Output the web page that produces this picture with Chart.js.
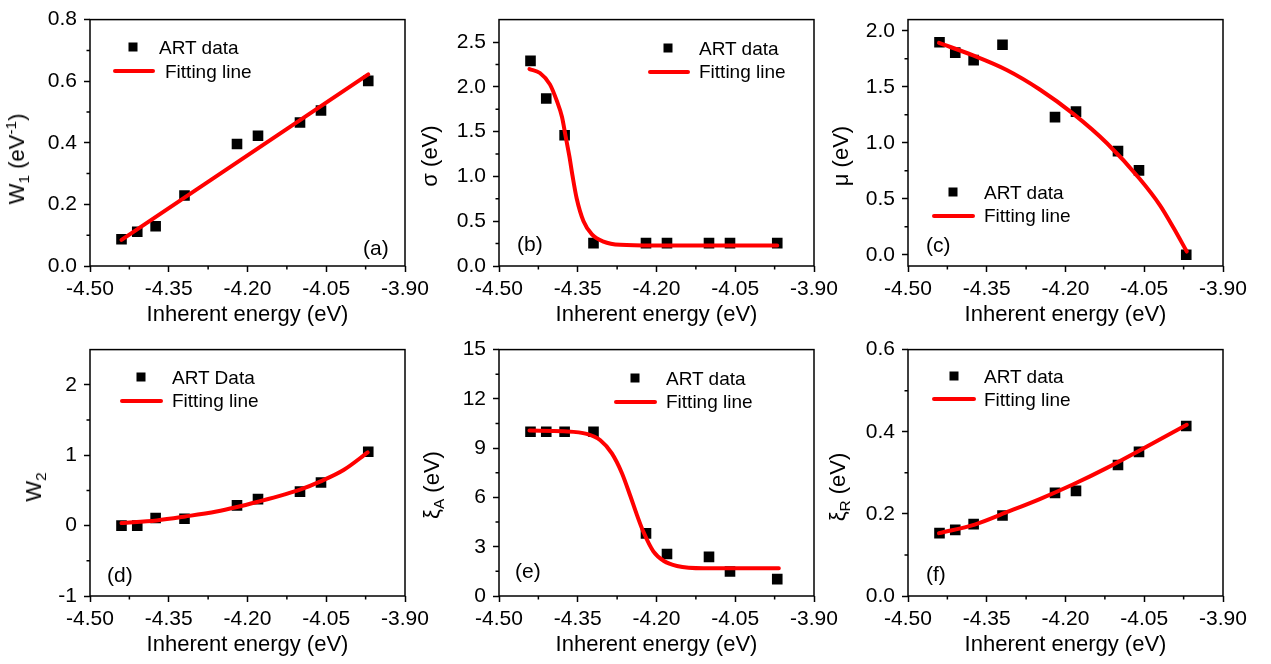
<!DOCTYPE html>
<html>
<head>
<meta charset="utf-8">
<script src="https://cdn.jsdelivr.net/npm/chart.js@4.4.0/dist/chart.umd.min.js"></script>
<style>
  body { margin: 0; background: #fff; width: 1271px; height: 664px; position: relative; overflow: hidden;
         font-family: 'Liberation Sans', Arial, sans-serif; color: #000; }
  canvas { position: absolute; }
  .ytitle { position: absolute; white-space: nowrap; font-size: 22px; line-height: 22px; height: 22px;
            transform: translate(-50%, -50%) rotate(-90deg); }
  .ytitle sub, .ytitle sup { font-size: 70%; line-height: 0; }
  .txt { position: absolute; white-space: nowrap; font-size: 19px; line-height: 19px; transform: translateY(-50%); }
  .lab { position: absolute; white-space: nowrap; font-size: 21px; line-height: 21px; transform: translateY(-50%); }
  .mk { position: absolute; width: 9px; height: 9px; background: #000; transform: translate(-50%, -50%); }
  .ln { position: absolute; height: 4px; background: #f00; border-radius: 2px; transform: translateY(-50%); }
</style>
</head>
<body>
<canvas id="pa" width="435" height="336"></canvas>
<canvas id="pb" width="435" height="336"></canvas>
<canvas id="pc" width="435" height="336"></canvas>
<canvas id="pd" width="435" height="336"></canvas>
<canvas id="pe" width="435" height="336"></canvas>
<canvas id="pf" width="435" height="336"></canvas>

<!-- y axis titles -->
<div class="ytitle" style="left:17px; top:159px;">W<sub>1</sub> (eV<sup>-1</sup>)</div>
<div class="ytitle" style="left:430px; top:156px;">σ (eV)</div>
<div class="ytitle" style="left:841px; top:156px;">μ (eV)</div>
<div class="ytitle" style="left:34px; top:487px;">W<sub>2</sub></div>
<div class="ytitle" style="left:432px; top:485px;">ξ<sub>A</sub> (eV)</div>
<div class="ytitle" style="left:838px; top:487px;">ξ<sub>R</sub> (eV)</div>

<!-- legends -->
<div class="mk" style="left:133px; top:47px;"></div><div class="txt" style="left:159px; top:47px;">ART data</div>
<div class="ln" style="left:113px; width:42px; top:71px;"></div><div class="txt" style="left:165px; top:71px;">Fitting line</div>

<div class="mk" style="left:668px; top:48px;"></div><div class="txt" style="left:699px; top:48px;">ART data</div>
<div class="ln" style="left:648px; width:42px; top:72px;"></div><div class="txt" style="left:699px; top:71px;">Fitting line</div>

<div class="mk" style="left:953px; top:192px;"></div><div class="txt" style="left:984px; top:192px;">ART data</div>
<div class="ln" style="left:932px; width:43px; top:216px;"></div><div class="txt" style="left:984px; top:215px;">Fitting line</div>

<div class="mk" style="left:141px; top:377px;"></div><div class="txt" style="left:172px; top:377px;">ART Data</div>
<div class="ln" style="left:120px; width:43px; top:401px;"></div><div class="txt" style="left:172px; top:400px;">Fitting line</div>

<div class="mk" style="left:635px; top:378px;"></div><div class="txt" style="left:666px; top:378px;">ART data</div>
<div class="ln" style="left:614px; width:43px; top:402px;"></div><div class="txt" style="left:666px; top:401px;">Fitting line</div>

<div class="mk" style="left:954px; top:376px;"></div><div class="txt" style="left:984px; top:376px;">ART data</div>
<div class="ln" style="left:932px; width:44px; top:399px;"></div><div class="txt" style="left:984px; top:399px;">Fitting line</div>

<!-- panel labels -->
<div class="lab" style="left:363px; top:247px;">(a)</div>
<div class="lab" style="left:517px; top:243px;">(b)</div>
<div class="lab" style="left:926px; top:244px;">(c)</div>
<div class="lab" style="left:107px; top:574px;">(d)</div>
<div class="lab" style="left:515px; top:570px;">(e)</div>
<div class="lab" style="left:926px; top:573px;">(f)</div>

<script>
// shared x axis
const xTicks = [-4.50, -4.35, -4.20, -4.05, -3.90];
const xTickLabels = ['-4.50', '-4.35', '-4.20', '-4.05', '-3.90'];
const xMinor = [-4.425, -4.275, -4.125, -3.975];
const energy = [-4.44, -4.41, -4.375, -4.32, -4.22, -4.18, -4.10, -4.06, -3.97];

// (a) W1
const w1Data = [0.087, 0.111, 0.129, 0.229, 0.396, 0.423, 0.466, 0.505, 0.601];
const w1FitX = [-4.44, -3.97];
const w1FitY = [0.085, 0.622];
const w1Ticks = [0, 0.2, 0.4, 0.6, 0.8];
const w1Labels = ['0.0', '0.2', '0.4', '0.6', '0.8'];
const w1Minor = [0.1, 0.3, 0.5, 0.7];

// (b) sigma
const sigmaData = [2.289, 1.870, 1.459, 0.255, 0.255, 0.255, 0.255, 0.255, 0.255];
const sigmaFitX = [-4.442, -4.422, -4.403, -4.390, -4.380, -4.373, -4.366, -4.360, -4.352, -4.339, -4.323, -4.301, -4.269, -4.205, -3.970];
const sigmaFitY = [2.198, 2.154, 2.027, 1.845, 1.663, 1.445, 1.226, 1.008, 0.753, 0.499, 0.353, 0.273, 0.237, 0.229, 0.229];
const sigmaTicks = [0, 0.5, 1.0, 1.5, 2.0, 2.5];
const sigmaLabels = ['0.0', '0.5', '1.0', '1.5', '2.0', '2.5'];
const sigmaMinor = [0.25, 0.75, 1.25, 1.75, 2.25];

// (c) mu
const muData = [1.898, 1.805, 1.738, 1.875, 1.229, 1.278, 0.926, 0.754, 0.0];
const muFitX = [-4.441, -4.376, -4.312, -4.249, -4.185, -4.121, -4.058, -4.020, -3.994, -3.969];
const muFitY = [1.892, 1.78, 1.65, 1.476, 1.258, 0.996, 0.675, 0.442, 0.239, 0.029];
const muTicks = [0, 0.5, 1.0, 1.5, 2.0];
const muLabels = ['0.0', '0.5', '1.0', '1.5', '2.0'];
const muMinor = [0.25, 0.75, 1.25, 1.75];

// (d) W2
const w2Data = [0.0, 0.0, 0.107, 0.097, 0.288, 0.376, 0.483, 0.613, 1.049];
const w2FitX = [-4.440, -4.373, -4.318, -4.259, -4.222, -4.178, -4.132, -4.100, -4.062, -4.017, -3.971];
const w2FitY = [0.037, 0.074, 0.13, 0.20, 0.26, 0.343, 0.436, 0.51, 0.625, 0.79, 1.04];
const w2Ticks = [-1, 0, 1, 2];
const w2Labels = ['-1', '0', '1', '2'];
const w2Minor = [-0.5, 0.5, 1.5];

// (e) xi_A
const xiAData = [10.0, 10.0, 10.0, 10.0, 3.81, 2.56, 2.38, 1.49, 1.03];
const xiAFitX = [-4.442, -4.377, -4.333, -4.307, -4.285, -4.266, -4.250, -4.237, -4.225, -4.206, -4.186, -4.161, -4.110, -3.967];
const xiAFitY = [10.07, 10.03, 9.87, 9.48, 8.68, 7.49, 6.10, 4.91, 3.91, 2.72, 2.13, 1.83, 1.69, 1.69];
const xiATicks = [0, 3, 6, 9, 12, 15];
const xiALabels = ['0', '3', '6', '9', '12', '15'];
const xiAMinor = [1.5, 4.5, 7.5, 10.5, 13.5];

// (f) xi_R
const xiRData = [0.153, 0.161, 0.175, 0.196, 0.251, 0.256, 0.319, 0.351, 0.414];
const xiRFitX = [-4.441, -4.373, -4.312, -4.249, -4.185, -4.121, -4.058, -3.969];
const xiRFitY = [0.153, 0.174, 0.204, 0.236, 0.272, 0.312, 0.355, 0.417];
const xiRTicks = [0, 0.2, 0.4, 0.6];
const xiRLabels = ['0.0', '0.2', '0.4', '0.6'];
const xiRMinor = [0.1, 0.3, 0.5];

const FONT = "'Liberation Sans', Arial, sans-serif";

// frame box + minor ticks
const framePlugin = {
  id: 'frame',
  afterDraw(chart, args, opts) {
    const { ctx, chartArea: a, scales } = chart;
    ctx.save();
    ctx.strokeStyle = '#000';
    ctx.lineWidth = 1.5;
    ctx.strokeRect(a.left, a.top, a.right - a.left, a.bottom - a.top);
    ctx.beginPath();
    opts.xMinor.forEach(v => {
      const px = scales.x.getPixelForValue(v);
      ctx.moveTo(px, a.bottom);
      ctx.lineTo(px, a.bottom + 3.5);
    });
    opts.yMinor.forEach(v => {
      const py = scales.y.getPixelForValue(v);
      ctx.moveTo(a.left, py);
      ctx.lineTo(a.left - 3.5, py);
    });
    ctx.stroke();
    ctx.restore();
  }
};

function makePanel(id, boxLeft, boxTop, vals, fitX, fitY, yMin, yMax, yTicks, yLabels, yMinor) {
  const canvas = document.getElementById(id);
  canvas.style.left = (boxLeft - 90) + 'px';
  canvas.style.top = (boxTop - 14) + 'px';

  new Chart(canvas, {
    type: 'scatter',
    data: {
      datasets: [
        {
          data: fitX.map((x, i) => ({ x, y: fitY[i] })),
          showLine: true,
          borderColor: '#ff0000',
          borderWidth: 4,
          borderCapStyle: 'round',
          pointRadius: 0,
          cubicInterpolationMode: 'monotone',
          order: 0
        },
        {
          data: energy.map((x, i) => ({ x, y: vals[i] })),
          pointStyle: 'rect',
          pointRadius: 7.5,
          pointBackgroundColor: '#000',
          pointBorderWidth: 0,
          order: 1
        }
      ]
    },
    options: {
      responsive: false,
      animation: false,
      events: [],
      layout: { padding: { top: 14, left: 0, right: 30, bottom: 0 } },
      plugins: {
        legend: { display: false },
        tooltip: { enabled: false },
        frame: { xMinor: xMinor, yMinor: yMinor }
      },
      scales: {
        x: {
          type: 'linear',
          min: -4.5,
          max: -3.9,
          afterBuildTicks: s => { s.ticks = xTicks.map(v => ({ value: v })); },
          afterFit: s => { s.height = 70; },
          ticks: {
            callback: (v, i) => xTickLabels[i],
            font: { family: FONT, size: 21 },
            color: '#000',
            padding: 5,
            maxRotation: 0,
            autoSkip: false
          },
          grid: { drawOnChartArea: false, tickLength: 6, tickColor: '#000', tickWidth: 1.5 },
          border: { display: false },
          title: {
            display: true,
            text: 'Inherent energy (eV)',
            font: { family: FONT, size: 22 },
            color: '#000',
            padding: { top: 0, bottom: 8 }
          }
        },
        y: {
          type: 'linear',
          min: yMin,
          max: yMax,
          afterBuildTicks: s => { s.ticks = yTicks.map(v => ({ value: v })); },
          afterFit: s => { s.width = 90; },
          ticks: {
            callback: (v, i) => yLabels[i],
            font: { family: FONT, size: 21 },
            color: '#000',
            padding: 7,
            autoSkip: false
          },
          grid: { drawOnChartArea: false, tickLength: 6, tickColor: '#000', tickWidth: 1.5 },
          border: { display: false }
        }
      }
    },
    plugins: [framePlugin]
  });
}

makePanel('pa', 90, 14, w1Data, w1FitX, w1FitY, 0, 0.8, w1Ticks, w1Labels, w1Minor);
makePanel('pb', 499, 14, sigmaData, sigmaFitX, sigmaFitY, 0, 2.75, sigmaTicks, sigmaLabels, sigmaMinor);
makePanel('pc', 908, 14, muData, muFitX, muFitY, -0.1, 2.1, muTicks, muLabels, muMinor);
makePanel('pd', 90, 344, w2Data, w2FitX, w2FitY, -1, 2.5, w2Ticks, w2Labels, w2Minor);
makePanel('pe', 499, 344, xiAData, xiAFitX, xiAFitY, 0, 15, xiATicks, xiALabels, xiAMinor);
makePanel('pf', 908, 344, xiRData, xiRFitX, xiRFitY, 0, 0.6, xiRTicks, xiRLabels, xiRMinor);
</script>
</body>
</html>
